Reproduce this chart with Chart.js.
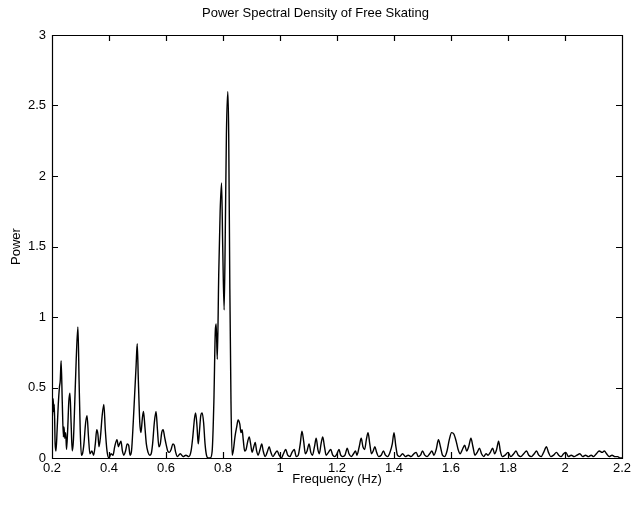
<!DOCTYPE html>
<html>
<head>
<meta charset="utf-8">
<script src="https://cdn.jsdelivr.net/npm/chart.js@4.4.1/dist/chart.umd.min.js"></script>
<style>
  html, body { margin: 0; padding: 0; background: #fff; }
  #wrap { width: 635px; height: 525px; }
</style>
</head>
<body>
<div id="wrap"><canvas id="psd"></canvas></div>
<script>
// Power spectral density trace (peaks and troughs).
const freqHz = [
  0.200, 0.202, 0.204, 0.206, 0.208, 0.211, 0.214, 0.218, 0.222, 0.226,
  0.229, 0.232, 0.236, 0.240, 0.242, 0.245, 0.248, 0.251, 0.255, 0.259,
  0.263, 0.267, 0.271, 0.275, 0.280, 0.285, 0.291, 0.295, 0.299, 0.303,
  0.307, 0.312, 0.318, 0.323, 0.328, 0.333, 0.340, 0.346, 0.352, 0.357,
  0.361, 0.365, 0.370, 0.376, 0.382, 0.387, 0.393, 0.400, 0.407, 0.414,
  0.420, 0.428, 0.433, 0.437, 0.442, 0.447, 0.452, 0.458, 0.464, 0.469,
  0.474, 0.479, 0.485, 0.490, 0.495, 0.499, 0.503, 0.508, 0.512, 0.517,
  0.521, 0.526, 0.531, 0.537, 0.543, 0.548, 0.553, 0.559, 0.565, 0.570,
  0.575, 0.580, 0.585, 0.590, 0.595, 0.600, 0.606, 0.612, 0.618, 0.624,
  0.629, 0.634, 0.640, 0.650, 0.660, 0.670, 0.680, 0.688, 0.694, 0.700,
  0.704, 0.709, 0.713, 0.717, 0.722, 0.727, 0.732, 0.737, 0.742, 0.748,
  0.755, 0.762, 0.768, 0.773, 0.776, 0.780, 0.785, 0.790, 0.795, 0.799,
  0.804, 0.808, 0.812, 0.817, 0.820, 0.824, 0.828, 0.832, 0.836, 0.842,
  0.848, 0.853, 0.859, 0.863, 0.867, 0.871, 0.876, 0.881, 0.887, 0.892,
  0.897, 0.902, 0.908, 0.913, 0.918, 0.923, 0.930, 0.936, 0.941, 0.948,
  0.955, 0.962, 0.968, 0.975, 0.982, 0.990, 0.997, 1.005, 1.012, 1.020,
  1.027, 1.035, 1.042, 1.050, 1.057, 1.064, 1.071, 1.077, 1.083, 1.089,
  1.095, 1.102, 1.108, 1.114, 1.121, 1.127, 1.133, 1.138, 1.144, 1.150,
  1.156, 1.162, 1.170, 1.178, 1.185, 1.192, 1.200, 1.207, 1.213, 1.220,
  1.228, 1.236, 1.242, 1.250, 1.258, 1.265, 1.270, 1.278, 1.285, 1.291,
  1.297, 1.303, 1.309, 1.315, 1.321, 1.327, 1.333, 1.339, 1.346, 1.355,
  1.363, 1.370, 1.378, 1.386, 1.394, 1.400, 1.406, 1.412, 1.420, 1.430,
  1.440, 1.450, 1.460, 1.470, 1.478, 1.485, 1.493, 1.500, 1.508, 1.516,
  1.525, 1.533, 1.540, 1.548, 1.556, 1.563, 1.570, 1.578, 1.586, 1.594,
  1.602, 1.610, 1.618, 1.625, 1.632, 1.640, 1.648, 1.655, 1.662, 1.670,
  1.677, 1.684, 1.692, 1.700, 1.707, 1.715, 1.723, 1.730, 1.738, 1.746,
  1.753, 1.760, 1.767, 1.773, 1.780, 1.790, 1.800, 1.810, 1.820, 1.828,
  1.836, 1.845, 1.855, 1.865, 1.873, 1.882, 1.892, 1.900, 1.908, 1.916,
  1.925, 1.935, 1.942, 1.950, 1.960, 1.970, 1.978, 1.986, 1.995, 2.003,
  2.012, 2.022, 2.032, 2.042, 2.052, 2.062, 2.072, 2.082, 2.092, 2.100,
  2.110, 2.120, 2.130, 2.138, 2.146, 2.155, 2.165, 2.175, 2.185, 2.193,
  2.200
];

const power = [
  0.40, 0.30, 0.42, 0.33, 0.38, 0.10, 0.05, 0.20, 0.38, 0.50,
  0.55, 0.69, 0.40, 0.15, 0.22, 0.14, 0.18, 0.06, 0.20, 0.40,
  0.46, 0.25, 0.05, 0.12, 0.40, 0.70, 0.93, 0.55, 0.20, 0.02,
  0.03, 0.10, 0.25, 0.30, 0.15, 0.03, 0.05, 0.02, 0.10, 0.20,
  0.17, 0.08, 0.15, 0.30, 0.38, 0.20, 0.05, 0.00, 0.03, 0.02,
  0.08, 0.13, 0.08, 0.10, 0.12, 0.05, 0.02, 0.05, 0.10, 0.09,
  0.02, 0.05, 0.25, 0.45, 0.65, 0.81, 0.55, 0.25, 0.18, 0.28,
  0.33, 0.22, 0.10, 0.04, 0.02, 0.03, 0.10, 0.25, 0.33, 0.20,
  0.08, 0.10, 0.18, 0.20, 0.15, 0.10, 0.05, 0.04, 0.06, 0.10,
  0.09, 0.04, 0.01, 0.03, 0.01, 0.02, 0.01, 0.05, 0.15, 0.28,
  0.32, 0.22, 0.10, 0.18, 0.30, 0.32, 0.25, 0.10, 0.02, 0.00,
  0.00, 0.05, 0.40, 0.90, 0.95, 0.70, 1.30, 1.75, 1.95, 1.50,
  1.05, 1.60, 2.30, 2.60, 2.30, 1.20, 0.40, 0.02, 0.05, 0.15,
  0.22, 0.27, 0.24, 0.18, 0.20, 0.13, 0.05, 0.06, 0.12, 0.15,
  0.10, 0.04, 0.08, 0.11, 0.05, 0.02, 0.06, 0.10, 0.05, 0.01,
  0.04, 0.08, 0.04, 0.01, 0.03, 0.05, 0.02, 0.00, 0.03, 0.06,
  0.02, 0.01, 0.04, 0.06, 0.01, 0.02, 0.10, 0.19, 0.12, 0.03,
  0.05, 0.10, 0.04, 0.02, 0.08, 0.14, 0.06, 0.03, 0.10, 0.15,
  0.08, 0.02, 0.04, 0.06, 0.02, 0.01, 0.03, 0.06, 0.02, 0.01,
  0.02, 0.07, 0.03, 0.01, 0.03, 0.05, 0.02, 0.08, 0.14, 0.08,
  0.06, 0.13, 0.18, 0.10, 0.03, 0.05, 0.08, 0.04, 0.01, 0.02,
  0.05, 0.02, 0.01, 0.04, 0.10, 0.18, 0.09, 0.02, 0.01, 0.03,
  0.01, 0.02, 0.01, 0.03, 0.04, 0.01, 0.02, 0.05, 0.02, 0.01,
  0.03, 0.05, 0.02, 0.06, 0.13, 0.08, 0.02, 0.01, 0.05, 0.13,
  0.18, 0.17, 0.12, 0.06, 0.03, 0.06, 0.09, 0.05, 0.08, 0.14,
  0.08, 0.02, 0.04, 0.07, 0.03, 0.01, 0.03, 0.02, 0.04, 0.07,
  0.03, 0.06, 0.12, 0.05, 0.01, 0.02, 0.04, 0.01, 0.03, 0.05,
  0.02, 0.01, 0.03, 0.05, 0.02, 0.01, 0.03, 0.05, 0.02, 0.01,
  0.04, 0.08, 0.04, 0.01, 0.02, 0.04, 0.02, 0.01, 0.03, 0.04,
  0.01, 0.02, 0.01, 0.02, 0.03, 0.01, 0.02, 0.01, 0.02, 0.01,
  0.03, 0.05, 0.04, 0.05, 0.03, 0.01, 0.02, 0.01, 0.01, 0.00,
  0.00
];

const xTickValues = [0.2, 0.4, 0.6, 0.8, 1.0, 1.2, 1.4, 1.6, 1.8, 2.0, 2.2];
const xTickLabels = ['0.2', '0.4', '0.6', '0.8', '1', '1.2', '1.4', '1.6', '1.8', '2', '2.2'];
const yTickValues = [0, 0.5, 1, 1.5, 2, 2.5, 3];
const yTickLabels = ['0', '0.5', '1', '1.5', '2', '2.5', '3'];

const chartTitle = 'Power Spectral Density of Free Skating';
const xTitle = 'Frequency (Hz)';
const yTitle = 'Power';

const FONT = '"Liberation Sans", Arial, Helvetica, sans-serif';

// MATLAB-style box with inward tick marks on all four sides
const boxTicks = {
  id: 'boxTicks',
  afterDraw(chart) {
    const { ctx, chartArea: a, scales } = chart;
    const len = 6;
    ctx.save();
    ctx.strokeStyle = '#000';
    ctx.lineWidth = 1.2;
    ctx.beginPath();
    ctx.rect(Math.round(a.left) + 0.5, Math.round(a.top) + 0.5,
             Math.round(a.right - a.left), Math.round(a.bottom - a.top));
    xTickValues.forEach(v => {
      const px = Math.round(scales.x.getPixelForValue(v)) + 0.5;
      ctx.moveTo(px, a.bottom); ctx.lineTo(px, a.bottom - len);
      ctx.moveTo(px, a.top);    ctx.lineTo(px, a.top + len);
    });
    yTickValues.forEach(v => {
      const py = Math.round(scales.y.getPixelForValue(v)) + 0.5;
      ctx.moveTo(a.left, py);  ctx.lineTo(a.left + len, py);
      ctx.moveTo(a.right, py); ctx.lineTo(a.right - len, py);
    });
    ctx.stroke();
    ctx.restore();
  }
};

new Chart(document.getElementById('psd').getContext('2d'), {
  type: 'line',
  data: {
    datasets: [{
      data: freqHz.map((f, i) => ({ x: f, y: power[i] })),
      borderColor: '#000',
      borderWidth: 1.4,
      pointRadius: 0,
      fill: false,
      cubicInterpolationMode: 'monotone',
    }]
  },
  options: {
    responsive: true,
    maintainAspectRatio: false,
    animation: false,
    layout: { padding: { left: 9, right: 13, top: 0, bottom: 38 } },
    plugins: {
      legend: { display: false },
      tooltip: { enabled: false },
      title: {
        display: true,
        text: chartTitle,
        color: '#000',
        font: { family: FONT, size: 13, weight: 'normal' },
        padding: { top: 6, bottom: 13.4 },
      },
    },
    scales: {
      x: {
        type: 'linear',
        min: 0.2, max: 2.2,
        afterBuildTicks: s => { s.ticks = xTickValues.map(v => ({ value: v })); },
        afterFit: s => { s.height = 29; },
        grid: { display: false, drawTicks: false },
        border: { display: false },
        ticks: {
          color: '#000',
          font: { family: FONT, size: 13 },
          padding: 3,
          maxRotation: 0,
          autoSkip: false,
          callback: (v, i) => xTickLabels[i],
        },
        title: {
          display: true, text: xTitle, color: '#000', padding: 0,
          font: { family: FONT, size: 13 },
        },
      },
      y: {
        type: 'linear',
        min: 0, max: 3,
        afterBuildTicks: s => { s.ticks = yTickValues.map(v => ({ value: v })); },
        afterFit: s => { s.width = 43; },
        grid: { display: false, drawTicks: false },
        border: { display: false },
        ticks: {
          color: '#000',
          font: { family: FONT, size: 13 },
          padding: 6,
          autoSkip: false,
          callback: (v, i) => yTickLabels[i],
        },
        title: {
          display: true, text: yTitle, color: '#000', padding: 0,
          font: { family: FONT, size: 13 },
        },
      },
    },
  },
  plugins: [boxTicks],
});
</script>
</body>
</html>
